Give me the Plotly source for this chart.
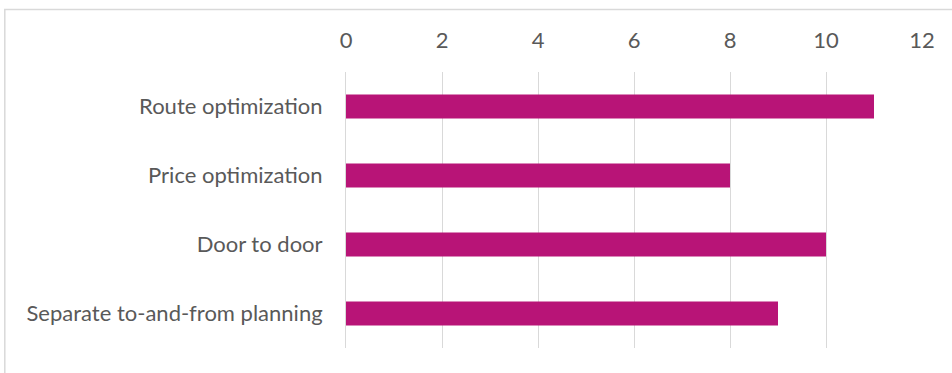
import plotly.graph_objects as go

# Survey counts per planning feature
categories = ["Route optimization", "Price optimization", "Door to door", "Separate to-and-from planning"]
counts = [11, 8, 10, 9]
x_ticks = [0, 2, 4, 6, 8, 10, 12]

BAR_COLOR = "#B81477"
GRID_COLOR = "#D9D9D9"
TEXT_COLOR = "#595959"
FONT = "Lato"
FONT_SIZE = 22

fig = go.Figure(
    go.Bar(
        x=counts,
        y=categories,
        orientation="h",
        marker=dict(color=BAR_COLOR, line=dict(width=0)),
        hoverinfo="skip",
    )
)

fig.update_layout(
    width=952,
    height=373,
    margin=dict(l=346, r=29.5, t=72, b=25),
    paper_bgcolor="white",
    plot_bgcolor="white",
    showlegend=False,
    bargap=0.65,
    font=dict(family=FONT, size=FONT_SIZE, color=TEXT_COLOR),
)

fig.update_xaxes(
    side="top",
    range=[0, 12],
    tickvals=x_ticks,
    showgrid=True,
    gridcolor=GRID_COLOR,
    gridwidth=1,
    zeroline=False,
    showline=False,
    ticks="",
    ticklabelstandoff=19,
    tickfont=dict(family=FONT, size=FONT_SIZE, color=TEXT_COLOR),
)

fig.update_yaxes(
    categoryorder="array",
    categoryarray=categories[::-1],
    showgrid=False,
    zeroline=False,
    showline=True,
    linecolor=GRID_COLOR,
    linewidth=1,
    ticks="",
    ticklabelstandoff=18,
    tickfont=dict(family=FONT, size=FONT_SIZE, color=TEXT_COLOR),
)

# Chart frame (partially outside the visible canvas)
fig.add_shape(
    type="rect",
    xref="paper", yref="paper",
    x0=(4.5 - 346) / 576.5, x1=1.3,
    y0=-0.3, y1=(348 - 9.5) / 276,
    line=dict(color=GRID_COLOR, width=1.5),
    fillcolor="rgba(0,0,0,0)",
    layer="below",
)

fig.write_html("out.html")
